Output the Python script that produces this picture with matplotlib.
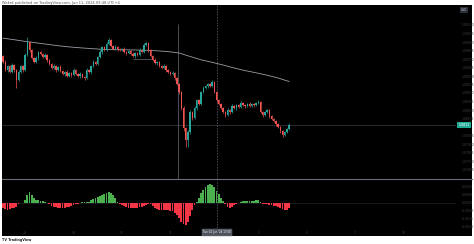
import matplotlib
matplotlib.use("Agg")
import matplotlib.pyplot as plt
from matplotlib.patches import Rectangle
from matplotlib.lines import Line2D
import numpy as np

# ---------------- data ----------------
first_open = 1.0880
closes = [1.0874, 1.0866, 1.0870, 1.0864, 1.0871, 1.0866, 1.0856, 1.0864, 1.0870, 1.0866,
          1.0881, 1.0894, 1.0886, 1.0878, 1.0874, 1.0878, 1.0884, 1.0882, 1.0879, 1.0881,
          1.0876, 1.0872, 1.0868, 1.0870, 1.0866, 1.0869, 1.0865, 1.0862, 1.0864, 1.0860,
          1.0863, 1.0861, 1.0866, 1.0862, 1.0860, 1.0862, 1.0859, 1.0858, 1.0866, 1.0864,
          1.0870, 1.0874, 1.0872, 1.0879, 1.0884, 1.0889, 1.0886, 1.0892, 1.0896, 1.0890,
          1.0887, 1.0889, 1.0887, 1.0886, 1.0887, 1.0884, 1.0883, 1.0885, 1.0882, 1.0880,
          1.0883, 1.0881, 1.0886, 1.0884, 1.0891, 1.0893, 1.0886, 1.0880, 1.0876, 1.0873,
          1.0874, 1.0870, 1.0868, 1.0870, 1.0866, 1.0864, 1.0862, 1.0863, 1.0858, 1.0852,
          1.0844, 1.0828, 1.0808, 1.0796, 1.0804, 1.0824, 1.0818, 1.0828, 1.0836, 1.0832,
          1.0844, 1.0848, 1.0850, 1.0852, 1.0850, 1.0854, 1.0844, 1.0836, 1.0832, 1.0828,
          1.0824, 1.0821, 1.0826, 1.0824, 1.0830, 1.0828, 1.0831, 1.0829, 1.0833, 1.0831,
          1.0830, 1.0832, 1.0830, 1.0832, 1.0831, 1.0833, 1.0834, 1.0824, 1.0821, 1.0824,
          1.0826, 1.0820, 1.0817, 1.0815, 1.0812, 1.0809, 1.0805, 1.0801, 1.0804, 1.0807,
          1.0811]
# wick lengths beyond the body, in pips (0.0001)
wick_hi = [1, 2, 1, 1, 2, 1, 1, 2, 1, 1,
           2, 5, 1, 1, 1, 2, 1, 1, 1, 2,
           1, 1, 1, 2, 1, 1, 2, 1, 1, 2,
           1, 1, 2, 1, 1, 2, 1, 1, 2, 1,
           1, 2, 1, 1, 2, 1, 1, 2, 2, 1,
           1, 2, 1, 1, 1, 2, 1, 1, 1, 2,
           1, 1, 2, 1, 2, 1, 1, 1, 1, 2,
           1, 1, 1, 2, 1, 1, 1, 2, 1, 1,
           1, 1, 2, 1, 2, 2, 1, 2, 1, 1,
           1, 2, 1, 1, 1, 2, 1, 1, 1, 1,
           1, 1, 2, 1, 2, 1, 1, 1, 2, 1,
           1, 1, 2, 1, 1, 1, 2, 1, 1, 1,
           1, 1, 1, 1, 1, 1, 1, 1, 1, 1,
           2]
wick_lo = [1, 1, 2, 1, 1, 2, 8, 1, 1, 2,
           1, 1, 2, 1, 1, 1, 2, 1, 1, 1,
           2, 1, 1, 1, 2, 1, 1, 1, 2, 1,
           1, 2, 1, 1, 1, 2, 1, 2, 1, 1,
           2, 1, 1, 1, 1, 2, 1, 1, 1, 1,
           1, 1, 2, 1, 1, 1, 2, 1, 1, 1,
           2, 1, 1, 1, 1, 1, 2, 1, 1, 1,
           2, 1, 1, 1, 2, 1, 1, 1, 2, 1,
           2, 2, 3, 7, 7, 2, 2, 1, 2, 1,
           1, 1, 1, 2, 1, 1, 1, 2, 1, 1,
           1, 2, 1, 2, 1, 1, 2, 1, 1, 1,
           2, 1, 1, 1, 2, 1, 1, 1, 2, 1,
           1, 2, 1, 1, 2, 1, 2, 2, 1, 1,
           1]
ma_index = list(range(0, 131, 5))
ma_values = [1.08978, 1.08963, 1.08946, 1.08932, 1.08917, 1.08903, 1.08891, 1.08882, 1.08874,
             1.08867, 1.08864, 1.08862, 1.08860, 1.08857, 1.08852, 1.08844, 1.08830, 1.08795,
             1.08762, 1.08737, 1.08710, 1.08680, 1.08654, 1.08632, 1.08608, 1.08580, 1.08545]
hist = [-5, -6, -7, -6, -5, -5, -4, -1, 0.3, 0.5,
        3, 8, 11, 8, 5, 3, 3, 2.5, 2, 1.5,
        0.5, -1, -2.5, -3.5, -4, -4.5, -5, -5, -4.5, -4,
        -3.5, -2.5, -2, -1, -0.5, 0.5, 0.8, 0.8, 1, 1.5,
        3, 4, 5, 6, 7, 8, 9, 10, 11, 10,
        8, 5, 1.5, -1, -2, -3, -4, -4.5, -5, -5,
        -5, -4.5, -4, -3.5, -3, -2, -1, -0.5, -3, -5,
        -6, -7, -7, -7, -7, -7, -7.5, -8, -10, -12,
        -15, -19, -21, -22, -19, -13, -7, -2, 1, 5,
        10, 13, 16, 18, 19, 18, 16, 12, 9, 5,
        2, -1, -4, -5, -4, -2, -1, 0.5, 1.5, 2,
        2, 2, 2, 2.5, 2.5, 3, 3, 1, -0.5, -0.5,
        -0.8, -1.5, -2, -2.5, -3, -4, -5, -6, -7, -7,
        -5]
time_tick_idx = [10, 32, 54, 76, 116, 138, 160, 182]
time_tick_lbl = ["28", "29", "30", "31", "5", "6", "7", "10"]
last_price_label = "1.0811"
crosshair_label = "Tue 04 Jun '24 13:00"
title_text = "Wakrd published on TradingView.com, Jun 11, 2024 09:48 UTC+4"

# ---------------- figure ----------------
W, H = 474, 244
fig = plt.figure(figsize=(W / 100, H / 100), dpi=100)
fig.patch.set_facecolor("white")

def fy(py):
    return 1 - py / H

fig.patches.append(Rectangle((2 / W, fy(236)), 470 / W, 231 / H, transform=fig.transFigure,
                             facecolor="black", edgecolor="none", zorder=-5))

ax = fig.add_axes([2 / W, fy(179), 454 / W, 174 / H])
ax2 = fig.add_axes([2 / W, fy(236), 454 / W, 56 / H])
for a in (ax, ax2):
    a.set_facecolor("none")
    a.set_zorder(2)
    for s in a.spines.values():
        s.set_visible(False)
    a.set_xlim(-0.5, 205.86)
    a.yaxis.tick_right()
    a.tick_params(axis="y", length=0, pad=4, labelsize=2.2, labelcolor="#3c3f47")

ax.set_ylim(1.0757, 1.0931)
ax2.set_ylim(-33, 23)

# candles
n = len(closes)
idx = np.arange(n)
opens = [first_open] + closes[:-1]
up_c, dn_c = "#26a69a", "#ef5350"
for i in range(n):
    o, c = opens[i], closes[i]
    col = up_c if c >= o else dn_c
    hi = max(o, c) + wick_hi[i] * 0.0001
    lo = min(o, c) - wick_lo[i] * 0.0001
    ax.vlines(i, lo, hi, color=col, lw=0.5, zorder=3)
    ax.bar(i, max(abs(c - o), 0.00005), bottom=min(o, c), width=0.72, color=col,
           linewidth=0, zorder=4)

ax.plot(ma_index, ma_values, color="#9a9da6", lw=0.6, zorder=2)

# drawings / lines
ax.axhline(float(last_price_label), color="#3a3d47", lw=0.5, zorder=1)
ax.vlines(79.5, 1.0757, 1.0912, color="#6a6d78", lw=0.5, zorder=1)
ax.hlines(1.0877, 59, 68, color="#6a6d78", lw=0.5, zorder=1)
for a in (ax, ax2):
    a.axvline(97.2, color="#6a6d78", lw=0.5, ls=(0, (2, 2)), zorder=1)

# price scale labels
ticks = [round(1.0911 - 0.00085 * k, 5) for k in range(18)]
ticks = [t for t in ticks if t > 1.0760 and abs(t - float(last_price_label)) > 0.0004]
ax.set_yticks(ticks)
ax.set_yticklabels([f"{t:.5f}" for t in ticks])
ax.set_xticks([])

# indicator histogram
hcol = ["#4caf50" if v >= 0 else "#f23645" for v in hist]
ax2.bar(idx, hist, width=0.75, color=hcol, linewidth=0, zorder=3)
ax2.axhline(0, color="#2a2e39", lw=0.4, zorder=1)
ax2.set_yticks([16, 8, 0, -8, -16, -24])
ax2.set_yticklabels(["0.0016", "0.0008", "0.0000", "-0.0008", "-0.0016", "-0.0024"])
ax2.set_xticks(time_tick_idx)
ax2.set_xticklabels(time_tick_lbl)
ax2.tick_params(axis="x", length=0, pad=-3.5, labelsize=2.2, labelcolor="#3c3f47")

# separator
fig.add_artist(Line2D([2 / W, 472 / W], [fy(179), fy(179)], transform=fig.transFigure,
                      color="#6a6d78", lw=0.8, zorder=3))

# last price label
ax.text(1.005, float(last_price_label), last_price_label, transform=ax.get_yaxis_transform(),
        fontsize=2.3, color="white", va="center", ha="left", clip_on=False,
        bbox=dict(boxstyle="square,pad=0.35", fc="#22ab94", ec="none"))
# crosshair date label
ax2.text(97.2, -31.5, crosshair_label, fontsize=2.0, color="white", ha="center", va="bottom",
         bbox=dict(boxstyle="square,pad=0.4", fc="#50535e", ec="#787b86", lw=0.3))
# currency tag top right
fig.text(464 / W, fy(10), "USD", fontsize=2.2, color="#b2b5be", ha="center", va="center",
         bbox=dict(boxstyle="square,pad=0.4", fc="#2a2e39", ec="none"))

fig.text(2 / W, fy(2.6), title_text, fontsize=2.6, color="#555555", va="center", ha="left")
fig.text(2 / W, fy(240), "TV TradingView", fontsize=2.4, color="#222222", va="center",
         ha="left", fontweight="bold")

fig.savefig("out.png", dpi=100, facecolor="white")
